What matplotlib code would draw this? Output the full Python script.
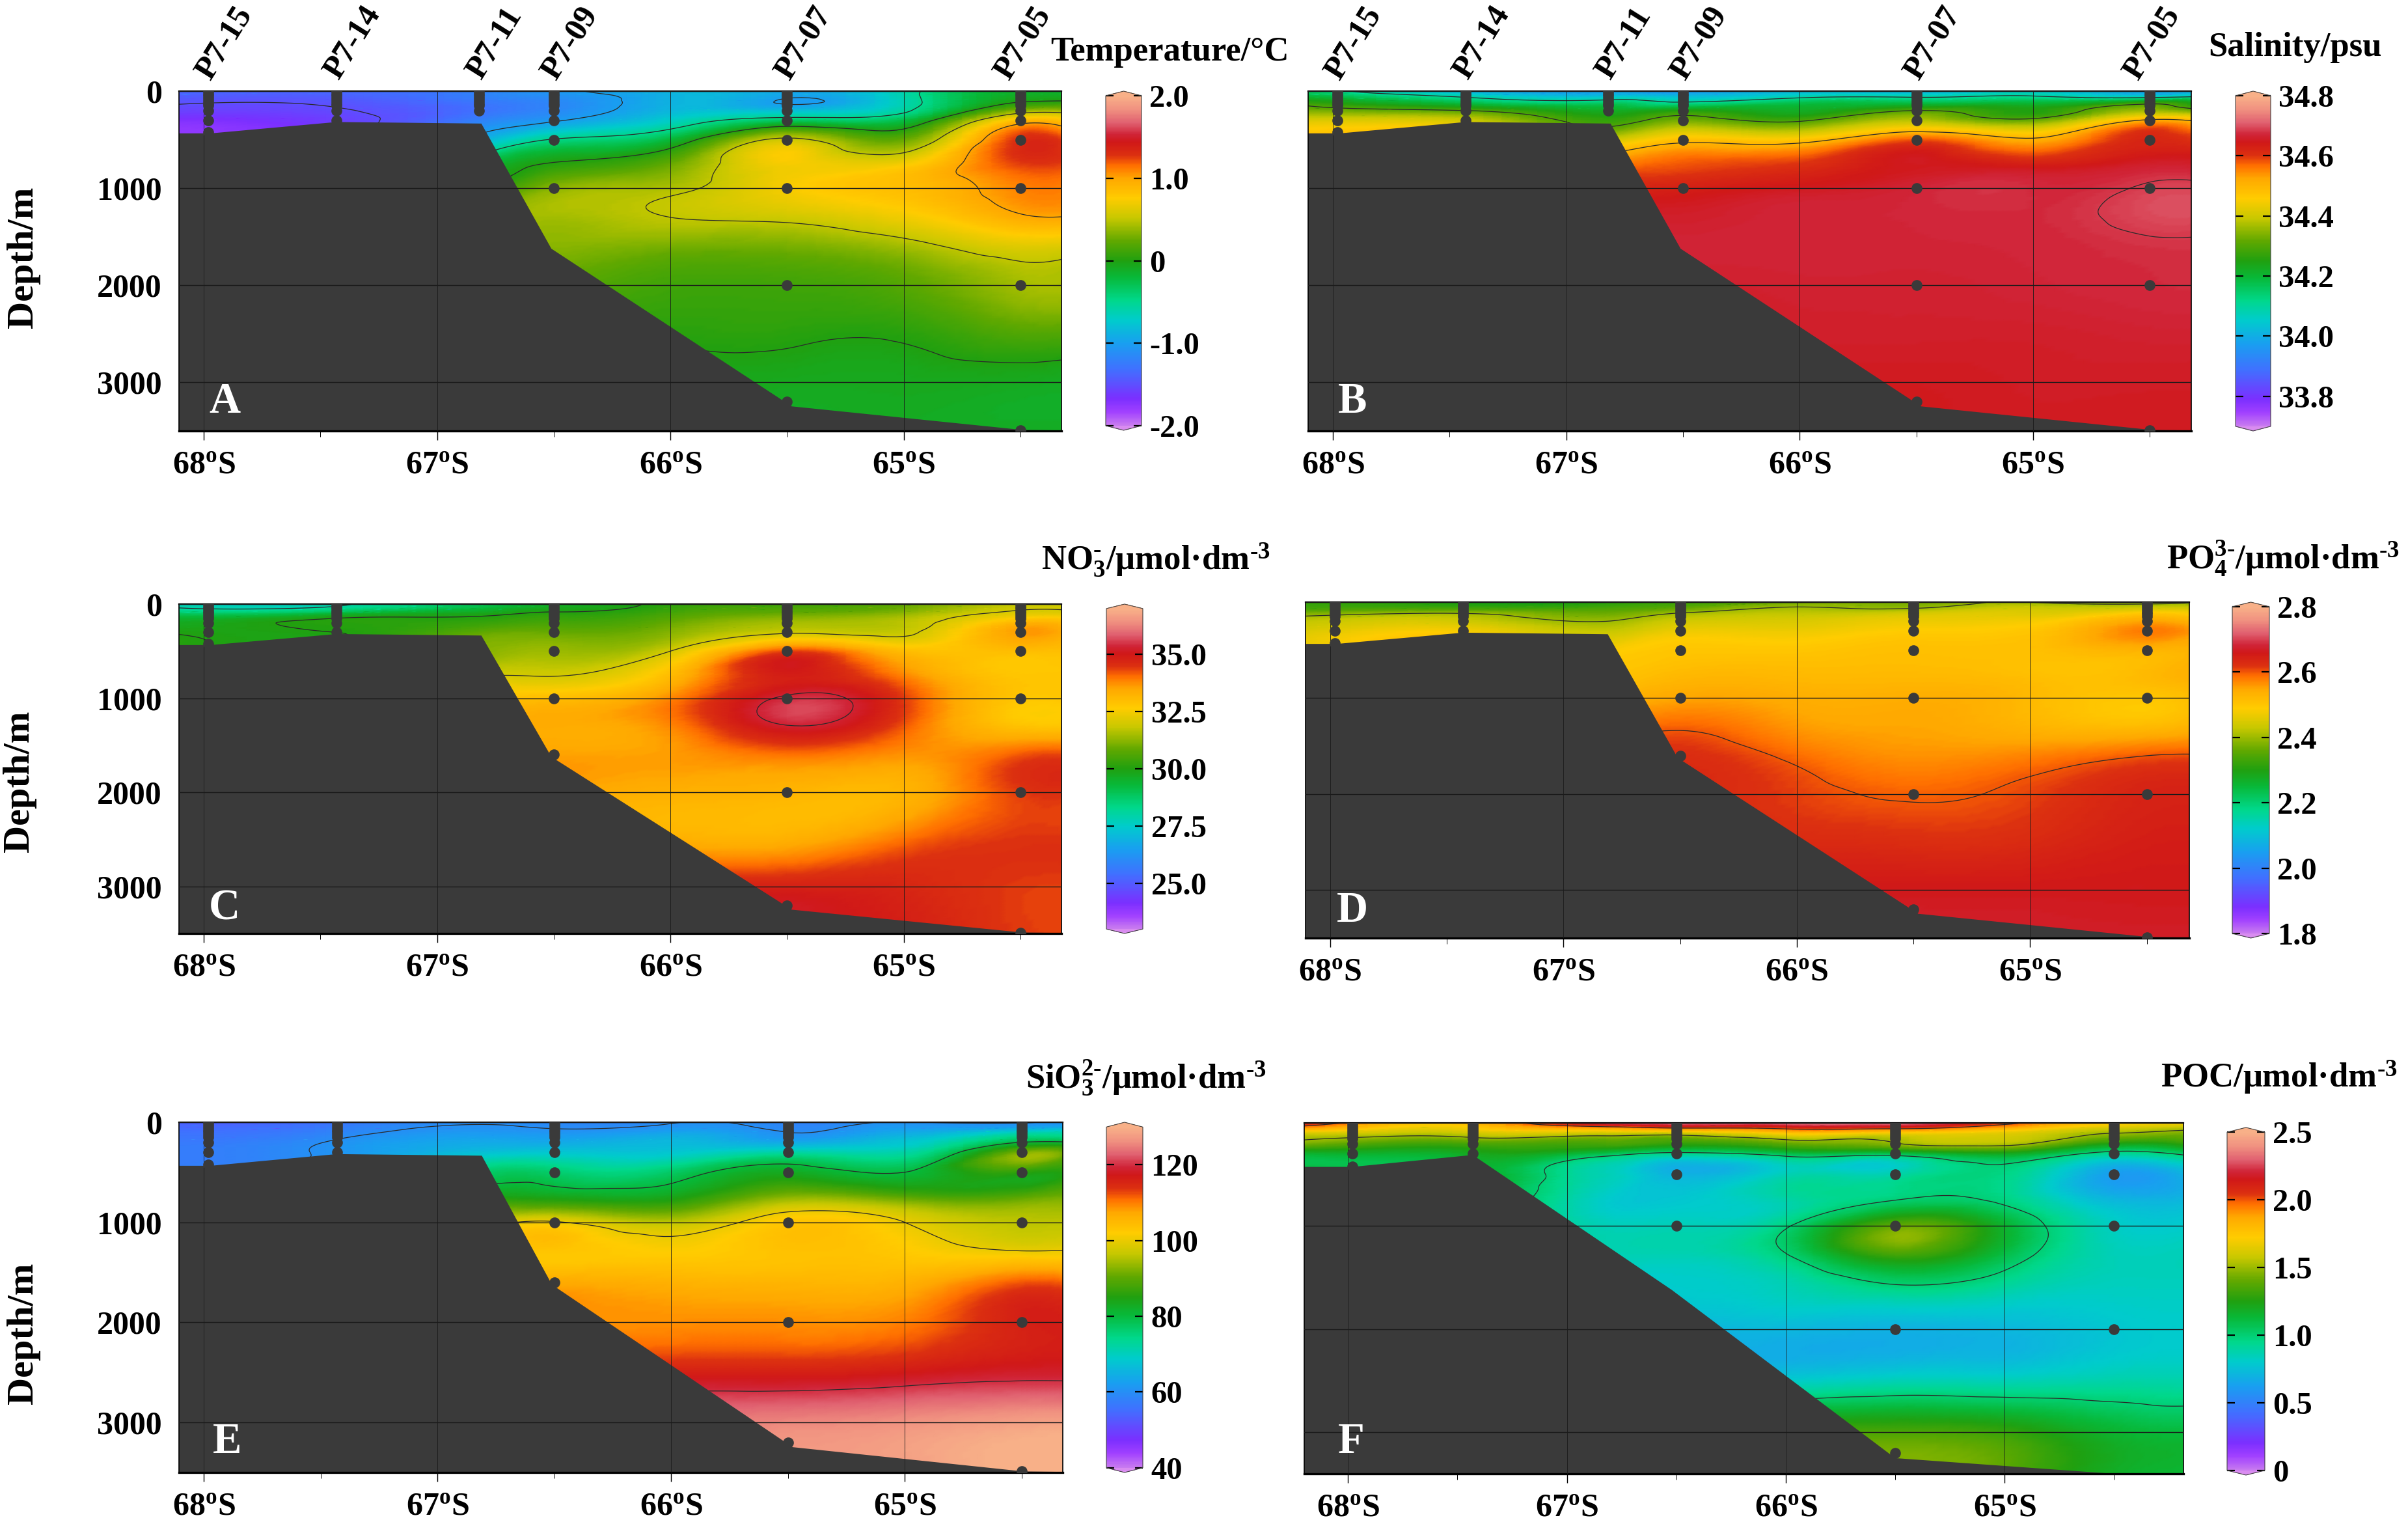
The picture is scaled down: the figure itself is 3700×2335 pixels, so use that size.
import numpy as np
import matplotlib
matplotlib.use('Agg')
import matplotlib.pyplot as plt
import matplotlib.tri as mtri
from matplotlib.colors import LinearSegmentedColormap, Normalize
from matplotlib.cm import ScalarMappable
from matplotlib.transforms import ScaledTranslation

plt.rcParams['font.family'] = ['Liberation Serif', 'DejaVu Serif']
plt.rcParams['font.weight'] = 'bold'
plt.rcParams['mathtext.fontset'] = 'custom'
plt.rcParams['mathtext.rm'] = 'Liberation Serif:bold'
plt.rcParams['mathtext.it'] = 'Liberation Serif:bold'
plt.rcParams['mathtext.bf'] = 'Liberation Serif:bold'
plt.rcParams['mathtext.default'] = 'rm'

W, H = 3700, 2335
DARK = '#3a3a3a'

# grid the values were read on
lat_grid = [68.2, 67.43, 66.82, 66.5, 66.0, 65.5, 65.0, 64.5, 64.18]
depth_grid = [0, 50, 100, 200, 300, 500, 750, 1000, 1300, 1600, 2000, 2500, 3000, 3500]

temperature = [
    [-1.35, -1.35, -1.20, -1.05, -0.85, -0.95, -0.60, -0.15, -0.15],
    [-1.40, -1.40, -1.20, -1.10, -0.88, -0.97, -0.60, -0.10, -0.10],
    [-1.45, -1.45, -1.25, -1.15, -0.88, -1.02, -0.62, -0.03, 0.00],
    [-1.55, -1.52, -1.30, -1.15, -0.85, -0.80, -0.55, 0.35, 0.30],
    [-1.70, -1.58, -1.20, -1.03, -0.70, -0.35, -0.25, 0.85, 0.55],
    [-1.75, -1.60, -0.90, -0.48, -0.20, 0.55, 0.25, 1.30, 1.00],
    [-1.70, -1.40, -0.30, 0.02, 0.25, 0.72, 0.72, 1.25, 1.15],
    [-0.50, -0.50, 0.00, 0.35, 0.45, 0.72, 0.85, 1.10, 1.05],
    [0.30, 0.30, 0.40, 0.42, 0.50, 0.55, 0.70, 0.97, 0.95],
    [0.30, 0.30, 0.35, 0.35, 0.30, 0.30, 0.42, 0.62, 0.55],
    [0.20, 0.20, 0.20, 0.20, 0.12, 0.12, 0.20, 0.42, 0.40],
    [0.05, 0.05, 0.05, 0.05, 0.03, 0.035, 0.03, 0.18, 0.15],
    [-0.08, -0.08, -0.08, -0.08, -0.07, -0.07, -0.07, -0.08, -0.10],
    [-0.10, -0.10, -0.10, -0.10, -0.10, -0.10, -0.10, -0.10, -0.10],
]

salinity = [
    [34.20, 34.00, 33.98, 33.95, 34.02, 34.00, 34.05, 33.98, 34.05],
    [34.22, 34.08, 34.03, 34.02, 34.07, 34.08, 34.10, 34.05, 34.10],
    [34.28, 34.15, 34.12, 34.08, 34.15, 34.15, 34.17, 34.22, 34.16],
    [34.35, 34.30, 34.22, 34.25, 34.22, 34.30, 34.25, 34.36, 34.30],
    [34.42, 34.40, 34.27, 34.33, 34.29, 34.38, 34.32, 34.51, 34.44],
    [34.48, 34.45, 34.40, 34.48, 34.47, 34.58, 34.51, 34.62, 34.58],
    [34.50, 34.50, 34.55, 34.58, 34.60, 34.65, 34.63, 34.66, 34.65],
    [34.60, 34.60, 34.62, 34.63, 34.65, 34.67, 34.675, 34.69, 34.688],
    [34.66, 34.66, 34.66, 34.66, 34.67, 34.672, 34.675, 34.695, 34.692],
    [34.67, 34.67, 34.67, 34.67, 34.67, 34.67, 34.672, 34.68, 34.68],
    [34.66, 34.66, 34.66, 34.66, 34.665, 34.665, 34.67, 34.675, 34.675],
    [34.66, 34.66, 34.66, 34.66, 34.66, 34.66, 34.66, 34.665, 34.665],
    [34.65, 34.65, 34.65, 34.65, 34.65, 34.65, 34.655, 34.655, 34.655],
    [34.65, 34.65, 34.65, 34.65, 34.65, 34.65, 34.65, 34.65, 34.65],
]

nitrate = [
    [27.8, 27.9, 29.0, 29.6, 30.2, 30.4, 30.9, 31.8, 31.8],
    [28.2, 28.3, 29.3, 29.8, 30.3, 30.6, 31.0, 31.95, 31.95],
    [28.9, 29.3, 29.8, 30.1, 30.5, 30.9, 31.3, 32.2, 32.1],
    [29.6, 30.1, 30.3, 30.5, 30.9, 31.5, 31.7, 33.2, 32.6],
    [30.0, 30.0, 30.8, 30.9, 31.2, 31.9, 31.85, 33.6, 32.8],
    [30.2, 30.2, 31.2, 31.4, 32.0, 34.3, 33.0, 33.0, 33.0],
    [30.5, 30.8, 31.9, 31.95, 33.0, 34.9, 33.8, 32.8, 32.8],
    [32.0, 32.0, 32.8, 33.0, 33.8, 35.42, 34.4, 32.8, 32.9],
    [33.2, 33.2, 33.3, 33.4, 33.8, 35.25, 34.2, 32.9, 32.9],
    [33.5, 33.5, 33.5, 33.55, 33.6, 34.0, 33.7, 34.2, 34.2],
    [33.5, 33.5, 33.5, 33.5, 33.3, 33.2, 33.2, 34.4, 34.4],
    [33.3, 33.3, 33.3, 33.3, 33.3, 33.3, 34.0, 34.45, 34.45],
    [34.8, 34.8, 34.8, 34.8, 34.8, 34.8, 34.7, 34.4, 34.4],
    [35.0, 35.0, 35.0, 35.0, 35.0, 35.0, 34.9, 34.4, 34.4],
]

phosphate = [
    [2.32, 2.30, 2.31, 2.33, 2.37, 2.38, 2.40, 2.38, 2.42],
    [2.33, 2.32, 2.33, 2.35, 2.40, 2.39, 2.43, 2.43, 2.44],
    [2.36, 2.38, 2.36, 2.39, 2.42, 2.43, 2.45, 2.48, 2.46],
    [2.42, 2.44, 2.40, 2.44, 2.45, 2.47, 2.48, 2.55, 2.50],
    [2.44, 2.48, 2.43, 2.47, 2.47, 2.49, 2.50, 2.58, 2.53],
    [2.45, 2.48, 2.48, 2.50, 2.50, 2.51, 2.51, 2.53, 2.54],
    [2.47, 2.49, 2.50, 2.52, 2.52, 2.52, 2.51, 2.52, 2.54],
    [2.52, 2.53, 2.53, 2.55, 2.54, 2.54, 2.52, 2.50, 2.53],
    [2.58, 2.58, 2.58, 2.595, 2.56, 2.55, 2.53, 2.52, 2.54],
    [2.62, 2.62, 2.62, 2.625, 2.59, 2.565, 2.575, 2.60, 2.60],
    [2.63, 2.63, 2.63, 2.63, 2.612, 2.595, 2.61, 2.64, 2.64],
    [2.63, 2.63, 2.63, 2.63, 2.63, 2.625, 2.63, 2.65, 2.65],
    [2.66, 2.66, 2.66, 2.66, 2.66, 2.66, 2.66, 2.66, 2.66],
    [2.67, 2.67, 2.67, 2.67, 2.67, 2.67, 2.67, 2.67, 2.67],
]

silicate = [
    [54, 56, 59.5, 59, 59.7, 58.5, 60.2, 59.7, 62],
    [55, 57.5, 60.5, 59.7, 61, 59, 62, 63, 65],
    [56, 58.5, 61.5, 61, 63, 60, 64, 70, 70],
    [57, 60.5, 64, 64, 66, 64, 68, 80, 78.5],
    [57.5, 61, 67, 68, 68, 72, 72, 92, 83],
    [58, 62, 76, 76.5, 77, 83, 80, 86, 88],
    [65, 70, 84, 84, 84, 93, 90, 90, 92],
    [95, 95, 98, 100.5, 96, 103, 100, 96, 96],
    [103, 103, 103, 103, 102, 103.5, 102.5, 100.5, 101],
    [107, 107, 107, 107, 106, 105.5, 106, 112, 109],
    [109, 109, 109, 109, 109, 109, 110, 116, 116],
    [116, 116, 116, 116, 116, 116, 117, 118.5, 118.5],
    [125, 125, 125, 125, 125, 125.5, 126.5, 128, 128],
    [126, 126, 126, 126, 126, 126.5, 127.5, 130, 130],
]

poc = [
    [2.15, 1.80, 2.30, 2.35, 2.35, 2.35, 2.05, 1.75, 1.72],
    [1.90, 1.72, 1.90, 2.00, 2.05, 2.05, 1.85, 1.62, 1.55],
    [1.62, 1.60, 1.60, 1.60, 1.75, 1.70, 1.65, 1.50, 1.45],
    [1.45, 1.35, 1.35, 1.30, 1.40, 1.49, 1.55, 1.25, 1.30],
    [1.15, 1.20, 1.07, 0.95, 1.08, 1.08, 1.20, 0.93, 1.03],
    [1.15, 1.15, 0.85, 0.70, 0.85, 0.88, 0.96, 0.62, 0.70],
    [1.10, 1.10, 0.80, 0.78, 0.88, 1.00, 0.97, 0.72, 0.72],
    [1.05, 1.05, 0.85, 0.85, 0.98, 1.40, 1.15, 0.82, 0.80],
    [0.85, 0.85, 0.85, 0.85, 0.98, 1.30, 1.08, 0.85, 0.85],
    [0.80, 0.80, 0.80, 0.80, 0.85, 0.97, 0.90, 0.83, 0.83],
    [0.72, 0.72, 0.72, 0.72, 0.72, 0.70, 0.72, 0.78, 0.80],
    [0.80, 0.80, 0.80, 0.80, 0.80, 0.85, 0.85, 0.88, 0.88],
    [1.35, 1.35, 1.35, 1.35, 1.35, 1.35, 1.30, 1.15, 1.12],
    [1.42, 1.42, 1.42, 1.42, 1.42, 1.42, 1.35, 1.15, 1.12],
]

# sea floor
floor_lat = [68.2, 67.97, 67.43, 66.81, 66.51, 65.48, 64.49, 64.1]
floor_depth = [435, 435, 318, 334, 1623, 3247, 3490, 3500]
floor_lat_f = [68.3, 67.98, 67.43, 66.52, 65.5, 64.52, 64.1]
floor_depth_f = [427, 427, 311, 1622, 3253, 3402, 3405]

station_names = ['P7-15', 'P7-14', 'P7-11', 'P7-09', 'P7-07', 'P7-05']
station_name_lat = [68.0, 67.45, 66.84, 66.52, 65.52, 64.58]
shallow = [0, 25, 50, 75, 100, 125, 150]

# sampling depths at each station, per panel
samples_ab = {67.98: [200, 300, 425], 67.43: [200, 300], 66.82: [200], 66.5: [200, 300, 500, 1000],
              65.5: [200, 300, 500, 1000, 2000, 3200], 64.5: [200, 300, 500, 1000, 2000, 3490]}
samples_ce = {67.98: [200, 300, 425], 67.43: [200, 300], 66.5: [200, 300, 500, 1000, 1600],
              65.5: [200, 300, 500, 1000, 2000, 3200], 64.5: [200, 300, 500, 1000, 2000, 3490]}
samples_f = {67.98: [200, 300, 425], 67.43: [200, 300], 66.5: [200, 300, 500, 1000],
             65.5: [200, 300, 500, 1000, 2000, 3200], 64.5: [200, 300, 500, 1000, 2000]}

lat_ticks = [68, 67, 66, 65]
lat_minor = [67.5, 66.5, 65.5, 64.5]
depth_ticks = [0, 1000, 2000, 3000]

temp_ticks = [-2, -1, 0, 1, 2]
temp_labels = ['-2.0', '-1.0', '0', '1.0', '2.0']
salt_ticks = [33.8, 34.0, 34.2, 34.4, 34.6, 34.8]
salt_labels = ['33.8', '34.0', '34.2', '34.4', '34.6', '34.8']
no3_ticks = [25, 27.5, 30, 32.5, 35]
no3_labels = ['25.0', '27.5', '30.0', '32.5', '35.0']
po4_ticks = [1.8, 2.0, 2.2, 2.4, 2.6, 2.8]
po4_labels = ['1.8', '2.0', '2.2', '2.4', '2.6', '2.8']
si_ticks = [40, 60, 80, 100, 120]
si_labels = ['40', '60', '80', '100', '120']
poc_ticks = [0, 0.5, 1, 1.5, 2, 2.5]
poc_labels = ['0', '0.5', '1.0', '1.5', '2.0', '2.5']

# colour bar
cmap = LinearSegmentedColormap.from_list('section', [
    (0.00, '#c87af0'), (0.04, '#a040ff'), (0.08, '#7b2fff'), (0.17, '#4070ff'),
    (0.25, '#18a0f0'), (0.32, '#00cccc'), (0.38, '#00d88a'), (0.45, '#08b838'),
    (0.50, '#20a010'), (0.56, '#60a800'), (0.63, '#c8c800'), (0.69, '#ffcc00'),
    (0.75, '#ffa800'), (0.79, '#ff6e00'), (0.82, '#dc3010'), (0.86, '#d01818'),
    (0.885, '#d02438'), (0.92, '#e06070'), (0.96, '#f09080'), (1.00, '#f8b088')], N=256)
cmap.set_under('#d98cf0')
cmap.set_over('#f8b088')

# triangles over the read grid, so the refiner can draw a smooth field
nx, ny = len(lat_grid), len(depth_grid)
grid_x, grid_y = np.meshgrid(lat_grid, depth_grid)
triangles = []
for j in range(ny - 1):
    for i in range(nx - 1):
        a = j * nx + i
        triangles.append([a, a + 1, a + nx])
        triangles.append([a + 1, a + nx + 1, a + nx])
base_tri = mtri.Triangulation(grid_x.ravel(), grid_y.ravel(), triangles)
refiner = mtri.UniformTriRefiner(base_tri)


def px_axes(fig, left, top, right, bottom):
    return fig.add_axes([left / W, 1 - bottom / H, (right - left) / W, (bottom - top) / H])


def draw_panel(fig, box, xlim, ylim_bottom, values, vmin, vmax, levels, floor, samples, letter, letter_xy,
               cbar_box, ticks, tick_labels, show_depth):
    ax = px_axes(fig, *box)
    norm = Normalize(vmin, vmax)
    tri, field = refiner.refine_field(np.array(values, dtype=float).ravel(), subdiv=4)
    ax.tripcolor(tri, field, shading='gouraud', cmap=cmap, norm=norm, zorder=1)
    ax.tricontour(tri, field, levels=levels, colors='#2a2a2a', linewidths=0.9, linestyles='solid', zorder=1.5)
    ax.fill(list(floor[0]) + [floor[0][-1], floor[0][0]],
            list(floor[1]) + [4000, 4000], color=DARK, lw=0, zorder=2)

    for lat, extra in samples.items():
        d = shallow + extra
        ax.plot([lat] * len(d), d, 'o', color=DARK, ms=12, mew=0, zorder=3)

    ax.set_xlim(*xlim)
    ax.set_ylim(ylim_bottom, 0)
    ax.set_xticks(lat_ticks)
    ax.set_xticklabels([f'{v}$^{{o}}$S' for v in lat_ticks], fontsize=36, fontweight='bold')
    ax.set_xticks(lat_minor, minor=True)
    ax.set_yticks(depth_ticks)
    if show_depth:
        ax.set_yticklabels([str(v) for v in depth_ticks], fontsize=36, fontweight='bold')
        for label in ax.get_yticklabels():
            label.set_transform(label.get_transform() + ScaledTranslation(0, -0.05, fig.dpi_scale_trans))
    else:
        ax.set_yticklabels([])
    ax.tick_params(axis='x', which='major', length=10, width=1, pad=12)
    ax.tick_params(axis='x', which='minor', length=6.5, width=0.7)
    ax.tick_params(axis='y', length=0, pad=19)
    ax.set_axisbelow(False)
    ax.xaxis.grid(True, which='major', color='#1a1a1a', lw=0.6)
    ax.yaxis.grid(True, which='major', color='#1a1a1a', lw=1.0)
    for side, lw in zip(['top', 'bottom', 'left', 'right'], [1.6, 2.4, 1.2, 1.2]):
        ax.spines[side].set_linewidth(lw)
    fig.text(letter_xy[0] / W, 1 - letter_xy[1] / H, letter, color='white', fontsize=48,
             fontweight='bold', ha='center', va='center', zorder=10)

    cax = px_axes(fig, *cbar_box)
    cb = fig.colorbar(ScalarMappable(norm, cmap), cax=cax, extend='both', extendfrac=0.014)
    cb.set_ticks(ticks)
    cb.set_ticklabels(tick_labels)
    cb.outline.set_linewidth(0.8)
    cb.outline.set_edgecolor('#444444')
    cax.tick_params(axis='y', which='major', direction='in', left=True, right=True, length=8.5, width=1.6,
                    pad=9, labelsize=35)
    cax.minorticks_off()
    return ax


fig = plt.figure(figsize=(W / 100, H / 100), dpi=100, facecolor='white')

xlim_ace = (68.106, 64.324)
floor_main = (floor_lat, floor_depth)
floor_poc = (floor_lat_f, floor_depth_f)

ax_a = draw_panel(fig, (275, 140, 1631, 662), xlim_ace, 3500, temperature, -2, 2, [-1.5, -1, -0.5, 0, 0.5, 1],
                  floor_main, samples_ab, 'A', (345, 617), (1699, 140, 1754, 661), temp_ticks, temp_labels, True)
ax_b = draw_panel(fig, (2010, 140, 3367, 662), (68.106, 64.322), 3500, salinity, 33.7, 34.8,
                  [34.1, 34.3, 34.5, 34.685], floor_main, samples_ab, 'B', (2078, 617),
                  (3435, 140, 3489, 662), salt_ticks, salt_labels, False)
draw_panel(fig, (275, 928, 1631, 1434), xlim_ace, 3500, nitrate, 23, 37, [28, 30, 32, 35.3],
           floor_main, samples_ce, 'C', (345, 1396), (1700, 928, 1756, 1434), no3_ticks, no3_labels, True)
draw_panel(fig, (2006, 925, 3364, 1441), (68.105, 64.318), 3500, phosphate, 1.8, 2.8, [2.4, 2.6],
           floor_main, samples_ce, 'D', (2078, 1399), (3430, 925, 3487, 1441), po4_ticks, po4_labels, False)
draw_panel(fig, (275, 1724, 1633, 2262), xlim_ace, 3500, silicate, 40, 130, [60, 80, 100, 120],
           floor_main, samples_ce, 'E', (349, 2216), (1700, 1724, 1756, 2262), si_ticks, si_labels, True)
draw_panel(fig, (2004, 1725, 3355, 2264), (68.2, 64.183), 3405, poc, 0, 2.5, [1.0, 1.5, 2.0],
           floor_poc, samples_f, 'F', (2076, 2215), (3422, 1732, 3480, 2266), poc_ticks, poc_labels, False)

for ax in (ax_a, ax_b):
    for name, lat in zip(station_names, station_name_lat):
        ax.text(lat, 1.042, name, transform=ax.get_xaxis_transform(), rotation=58, rotation_mode='anchor',
                ha='left', va='center', fontsize=36, fontweight='bold', clip_on=False)

titles = [
    ('Temperature/\u00b0C', 1614, 80),
    ('Salinity/psu', 3393, 73),
    ('NO$_3^{\\text{-}}$/\u03bcmol\u00b7dm$^{\\text{-3}}$', 1600, 860),
    ('PO$_4^{\\text{3-}}$/\u03bcmol\u00b7dm$^{\\text{-3}}$', 3329, 858),
    ('SiO$_3^{\\text{2-}}$/\u03bcmol\u00b7dm$^{\\text{-3}}$', 1576, 1655),
    ('POC/\u03bcmol\u00b7dm$^{\\text{-3}}$', 3320, 1655),
]
for text, x, y in titles:
    fig.text(x / W, 1 - y / H, text, fontsize=38, fontweight='bold', ha='left', va='center')

for x, y in [(36, 395), (30, 1200), (36, 2048)]:
    fig.text(x / W, 1 - y / H, 'Depth/m', fontsize=42, fontweight='bold', rotation=90, ha='center', va='center')

fig.savefig('out.png', dpi=100)
